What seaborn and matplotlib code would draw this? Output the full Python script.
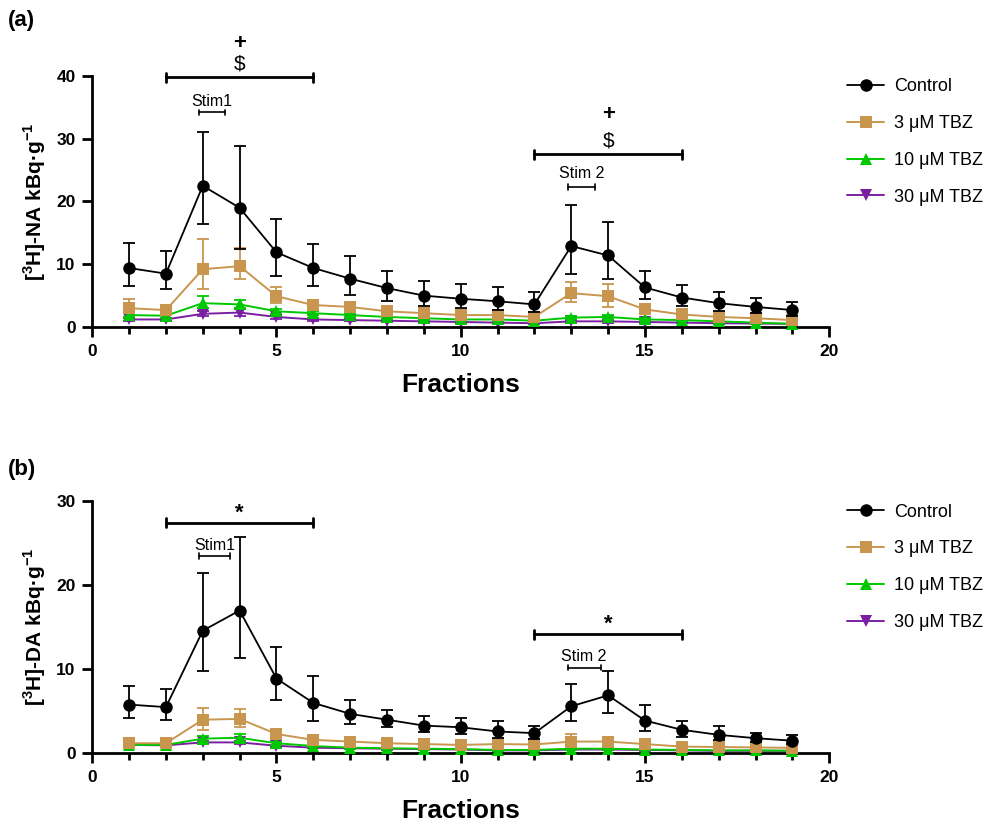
"""
Fractional [3H]-NA and [3H]-DA release with tetrabenazine (TBZ), two panels.
"""

import matplotlib
matplotlib.use("Agg")
import matplotlib.pyplot as plt
import numpy as np
import pandas as pd
import seaborn as sns

fractions = list(range(1, 20))
groups = ["Control", "3 μM TBZ", "10 μM TBZ", "30 μM TBZ"]

# panel (a) [3H]-NA, mean and error bar ends
na_control = [9.4, 8.5, 22.5, 19.0, 11.9, 9.4, 7.7, 6.2, 5.0, 4.5, 4.1, 3.6, 12.9, 11.4, 6.3, 4.7, 3.8, 3.2, 2.7]
na_control_hi = [13.4, 12.1, 31.1, 28.9, 17.2, 13.2, 11.3, 9.0, 7.4, 6.9, 6.3, 5.5, 19.4, 16.7, 9.0, 6.7, 5.5, 4.7, 4.0]
na_control_lo = [6.5, 6.0, 16.4, 12.5, 8.1, 6.6, 5.1, 4.1, 3.4, 3.0, 2.7, 2.4, 8.5, 7.7, 4.4, 3.3, 2.6, 2.2, 1.8]
na_tbz3 = [3.0, 2.7, 9.2, 9.7, 4.9, 3.5, 3.2, 2.5, 2.2, 1.9, 1.9, 1.6, 5.4, 4.9, 2.8, 2.0, 1.6, 1.4, 1.1]
na_tbz3_hi = [4.4, 3.4, 14.0, 12.6, 6.3, 4.3, 3.9, 3.0, 2.7, 2.4, 2.4, 2.0, 7.2, 6.8, 3.5, 2.5, 2.0, 1.7, 1.4]
na_tbz3_lo = [2.2, 2.1, 6.0, 7.7, 3.9, 2.8, 2.6, 2.0, 1.8, 1.5, 1.5, 1.3, 4.0, 3.2, 2.2, 1.6, 1.3, 1.1, 0.9]
na_tbz10 = [1.9, 1.8, 3.8, 3.6, 2.5, 2.2, 1.9, 1.6, 1.4, 1.2, 1.2, 1.0, 1.5, 1.6, 1.2, 1.1, 0.9, 0.7, 0.5]
na_tbz10_hi = [2.3, 2.1, 5.0, 4.3, 2.9, 2.5, 2.2, 1.9, 1.7, 1.4, 1.4, 1.2, 1.8, 1.9, 1.4, 1.3, 1.1, 0.9, 0.7]
na_tbz10_lo = [1.6, 1.5, 3.0, 3.0, 2.1, 1.9, 1.6, 1.3, 1.1, 1.0, 1.0, 0.8, 1.2, 1.3, 1.0, 0.9, 0.7, 0.5, 0.4]
na_tbz30 = [1.2, 1.2, 2.1, 2.3, 1.6, 1.2, 1.1, 1.0, 0.9, 0.8, 0.7, 0.6, 0.9, 0.9, 0.8, 0.7, 0.6, 0.55, 0.5]
na_tbz30_hi = [1.4, 1.4, 2.5, 2.9, 1.9, 1.4, 1.3, 1.2, 1.1, 1.0, 0.9, 0.8, 1.1, 1.1, 1.0, 0.9, 0.8, 0.7, 0.6]
na_tbz30_lo = [1.0, 1.0, 1.7, 1.8, 1.3, 1.0, 0.9, 0.8, 0.7, 0.6, 0.6, 0.5, 0.7, 0.7, 0.6, 0.6, 0.5, 0.45, 0.4]

# panel (b) [3H]-DA
da_control = [5.8, 5.5, 14.6, 17.0, 8.9, 6.0, 4.7, 4.0, 3.3, 3.1, 2.6, 2.4, 5.6, 6.9, 3.9, 2.8, 2.2, 1.8, 1.5]
da_control_hi = [8.0, 7.7, 21.5, 25.7, 12.6, 9.2, 6.3, 5.1, 4.4, 4.2, 3.8, 3.3, 8.2, 9.8, 5.8, 3.9, 3.3, 2.4, 2.2]
da_control_lo = [4.2, 4.0, 9.8, 11.3, 6.4, 3.9, 3.5, 3.1, 2.5, 2.3, 1.8, 1.7, 3.8, 4.8, 2.6, 2.0, 1.6, 1.3, 1.1]
da_tbz3 = [1.2, 1.2, 4.0, 4.1, 2.3, 1.6, 1.4, 1.2, 1.1, 1.0, 1.1, 1.05, 1.4, 1.4, 1.1, 0.8, 0.75, 0.7, 0.65]
da_tbz3_hi = [1.5, 1.4, 5.4, 5.3, 2.7, 1.9, 1.6, 1.4, 1.3, 1.2, 1.3, 1.2, 2.3, 1.7, 1.3, 1.0, 0.9, 0.85, 0.8]
da_tbz3_lo = [1.0, 1.0, 2.8, 3.1, 1.9, 1.3, 1.2, 1.0, 0.9, 0.8, 0.9, 0.9, 0.8, 1.1, 0.9, 0.6, 0.6, 0.55, 0.5]
da_tbz10 = [1.0, 1.0, 1.75, 1.85, 1.2, 0.87, 0.67, 0.6, 0.55, 0.5, 0.4, 0.4, 0.55, 0.55, 0.45, 0.4, 0.35, 0.35, 0.3]
da_tbz10_hi = [1.2, 1.2, 2.1, 2.3, 1.4, 1.0, 0.8, 0.7, 0.65, 0.6, 0.5, 0.5, 0.65, 0.65, 0.55, 0.5, 0.45, 0.45, 0.4]
da_tbz10_lo = [0.8, 0.8, 1.4, 1.4, 1.0, 0.7, 0.55, 0.5, 0.45, 0.4, 0.3, 0.3, 0.45, 0.45, 0.35, 0.3, 0.25, 0.25, 0.2]
da_tbz30 = [1.0, 0.95, 1.3, 1.3, 0.9, 0.67, 0.6, 0.55, 0.5, 0.45, 0.35, 0.35, 0.45, 0.45, 0.4, 0.35, 0.3, 0.3, 0.3]
da_tbz30_hi = [1.1, 1.1, 1.5, 1.5, 1.0, 0.75, 0.7, 0.65, 0.6, 0.55, 0.45, 0.45, 0.55, 0.55, 0.5, 0.45, 0.4, 0.4, 0.4]
da_tbz30_lo = [0.9, 0.8, 1.1, 1.1, 0.8, 0.6, 0.5, 0.45, 0.4, 0.35, 0.25, 0.25, 0.35, 0.35, 0.3, 0.25, 0.2, 0.2, 0.2]

colors = {"Control": "#000000", "3 μM TBZ": "#C8964F", "10 μM TBZ": "#00C800", "30 μM TBZ": "#7B1FA2"}
markers = {"Control": "o", "3 μM TBZ": "s", "10 μM TBZ": "^", "30 μM TBZ": "v"}

# significance brackets: (x0, x1, y, label lines as (text, y))
na_brackets = [(2, 6, 39.8, [("$", 41.9), ("+", 45.2)]), (12, 16, 27.5, [("$", 29.7), ("+", 33.9)])]
na_stims = [(2.9, 3.6, 34.2, "Stim1", 36.0), (12.9, 13.65, 22.3, "Stim 2", 24.4)]
da_brackets = [(2, 6, 27.45, [("*", 28.6)]), (12, 16, 14.2, [("*", 15.4)])]
da_stims = [(2.9, 3.75, 23.5, "Stim1", 24.8), (12.9, 13.8, 10.2, "Stim 2", 11.5)]


def make_frame(means, his, los):
    rows = []
    for g, m, h, l in zip(groups, means, his, los):
        for f, v, vh, vl in zip(fractions, m, h, l):
            rows.append({"fraction": f, "group": g, "value": v, "hi": vh, "lo": vl})
    return pd.DataFrame(rows)


def draw_panel(ax, df, ylim, yticks, ylabel, brackets, stims):
    # draw the lowest series first so control ends on top
    for z, g in enumerate(reversed(groups)):
        sub = df[df["group"] == g]
        lw = 1.3 if g == "Control" else 1.4
        ms = 9 if g == "Control" else 8
        ax.errorbar(sub["fraction"], sub["value"],
                    yerr=[sub["value"] - sub["lo"], sub["hi"] - sub["value"]],
                    fmt="none", ecolor=colors[g], elinewidth=1.3, capsize=4, capthick=1.3,
                    zorder=2 + z, clip_on=False)
        sns.lineplot(data=sub, x="fraction", y="value", ax=ax, color=colors[g],
                     marker=markers[g], markersize=ms, markeredgewidth=0, linewidth=lw,
                     label=g, zorder=2.5 + z, clip_on=False)
    ax.set_xlim(0, 20)
    ax.set_ylim(*ylim)
    ax.set_xticks([0, 5, 10, 15, 20])
    ax.set_xticks(range(0, 21), minor=True)
    ax.set_yticks(yticks)
    ax.set_xlabel("Fractions", fontsize=19, fontweight="bold", labelpad=10)
    ax.set_ylabel(ylabel, fontsize=15, fontweight="bold", labelpad=6)
    for lab in ax.get_xticklabels() + ax.get_yticklabels():
        lab.set_fontweight("bold")
    ax.tick_params(axis="both", which="major", labelsize=12.5, width=2, length=7,
                   direction="out", pad=5, colors="black")
    ax.tick_params(axis="x", which="minor", width=2, length=5, colors="black")
    for s in ["left", "bottom"]:
        ax.spines[s].set_linewidth(2)
        ax.spines[s].set_color("black")
    sns.despine(ax=ax)

    h = (ylim[1] - ylim[0]) * 0.018
    for x0, x1, y, texts in brackets:
        ax.plot([x0, x1], [y, y], color="black", lw=2, clip_on=False)
        ax.plot([x0, x0], [y - h, y + h], color="black", lw=2, clip_on=False)
        ax.plot([x1, x1], [y - h, y + h], color="black", lw=2, clip_on=False)
        for t, ty in texts:
            ax.text((x0 + x1) / 2, ty, t, ha="center", va="center", fontsize=16 if t != "$" else 15,
                    fontweight="bold" if t != "$" else "normal", clip_on=False)
    for x0, x1, y, t, ty in stims:
        ax.plot([x0, x1], [y, y], color="black", lw=1.2)
        ax.plot([x0, x0], [y - h * 0.6, y + h * 0.6], color="black", lw=1.2)
        ax.plot([x1, x1], [y - h * 0.6, y + h * 0.6], color="black", lw=1.2)
        ax.text((x0 + x1) / 2, ty, t, ha="center", va="center", fontsize=11.5)

    handles, labels = ax.get_legend_handles_labels()
    order = [labels.index(g) for g in groups]
    ax.legend([handles[i] for i in order], [labels[i] for i in order],
              loc="upper left", bbox_to_anchor=(1.015, 1.02), frameon=False,
              fontsize=13, handlelength=2.0, handletextpad=0.6, labelspacing=1.1,
              borderaxespad=0)


sns.set_theme(style="ticks")
plt.rcParams["font.family"] = ["Liberation Sans", "DejaVu Sans"]
plt.rcParams["text.color"] = "black"
plt.rcParams["axes.labelcolor"] = "black"
plt.rcParams["mathtext.fontset"] = "custom"
plt.rcParams["mathtext.rm"] = "Liberation Sans"
plt.rcParams["mathtext.bf"] = "Liberation Sans:bold"

fig = plt.figure(figsize=(9.97, 8.27), dpi=100)
ax_a = fig.add_axes([0.0925, 0.6046, 0.7392, 0.3035])
ax_b = fig.add_axes([0.0925, 0.0891, 0.7392, 0.3047])

df_na = make_frame([na_control, na_tbz3, na_tbz10, na_tbz30],
                   [na_control_hi, na_tbz3_hi, na_tbz10_hi, na_tbz30_hi],
                   [na_control_lo, na_tbz3_lo, na_tbz10_lo, na_tbz30_lo])
df_da = make_frame([da_control, da_tbz3, da_tbz10, da_tbz30],
                   [da_control_hi, da_tbz3_hi, da_tbz10_hi, da_tbz30_hi],
                   [da_control_lo, da_tbz3_lo, da_tbz10_lo, da_tbz30_lo])

draw_panel(ax_a, df_na, (0, 40), [0, 10, 20, 30, 40],
           r"[$^{\mathbf{3}}$H]-NA kBq·g$^{\mathbf{-1}}$", na_brackets, na_stims)
draw_panel(ax_b, df_da, (0, 30), [0, 10, 20, 30],
           r"[$^{\mathbf{3}}$H]-DA kBq·g$^{\mathbf{-1}}$", da_brackets, da_stims)

fig.text(0.008, 0.975, "(a)", fontsize=16, fontweight="bold", va="center")
fig.text(0.008, 0.432, "(b)", fontsize=16, fontweight="bold", va="center")

fig.savefig("out.png", dpi=100)
